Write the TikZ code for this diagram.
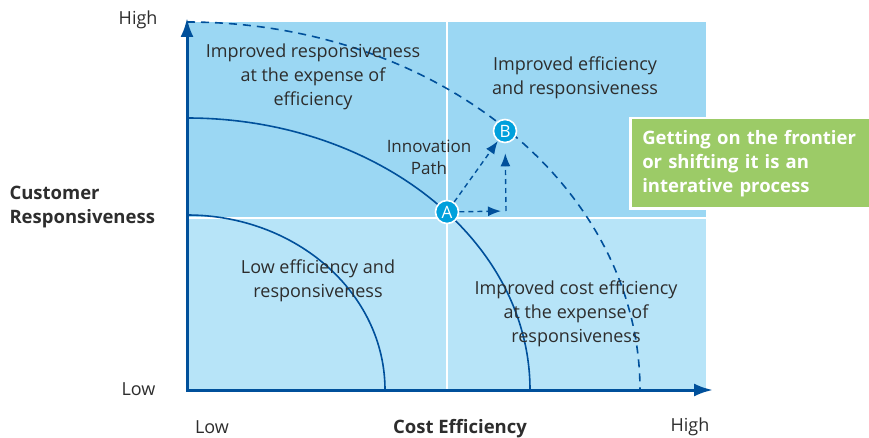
\documentclass[tikz,border=0pt]{standalone}
\usepackage{fontspec}
\setmainfont{Open Sans}
\usetikzlibrary{arrows.meta}
\definecolor{axisblue}{RGB}{0,80,155}
\definecolor{hiblue}{RGB}{155,215,243}
\definecolor{loblue}{RGB}{183,228,248}
\definecolor{dotblue}{RGB}{0,160,220}
\definecolor{boxgreen}{RGB}{156,203,103}
\definecolor{txtgray}{RGB}{45,45,45}
\tikzset{axis/.style={axisblue, line width=3pt, -{Latex[length=19pt,width=13pt]}}}
\tikzset{frontier/.style={axisblue, line width=1.6pt}}
\tikzset{pathline/.style={axisblue, line width=1.4pt, dash pattern=on 5pt off 4pt, -{Latex[length=13pt,width=10pt]}}}
\tikzset{point/.style={circle, fill=dotblue, draw=white, line width=1.6pt, minimum size=23pt, inner sep=0pt, text=white, font=\fontsize{17}{17}\selectfont}}
\tikzset{lbl/.style={text=txtgray, align=center, font=\fontsize{18}{24}\selectfont}}
\tikzset{bold/.style={font=\fontsize{18.5}{24}\selectfont\bfseries}}

\begin{document}
\begin{tikzpicture}[x=1pt,y=1pt]
    \useasboundingbox (0,0) rectangle (869,437);
    %Quadrants
    \fill[hiblue] (187,219) rectangle (706,415);
    \fill[loblue] (187,47) rectangle (706,219);
    \draw[white, line width=2.5pt] (447,47) -- (447,415);
    \draw[white, line width=2.5pt] (187,219) -- (706,219);
    %Frontiers
    \draw[frontier] (187,222) arc[start angle=90, end angle=0, x radius=198, y radius=175];
    \draw[frontier] (187,319) arc[start angle=90, end angle=0, x radius=343, y radius=272];
    \draw[frontier, dash pattern=on 8pt off 6pt] (187,415) arc[start angle=90, end angle=0, x radius=453, y radius=368];
    %Axis
    \draw[axis] (187,47) -- (187,419);
    \draw[axis] (186,47) -- (713,47);
    \node[lbl, anchor=east] (yhigh) at (161,417) {High};
    \node[lbl, anchor=east] (ylow) at (159,48) {Low};
    \node[lbl] (xlow) at (212,10) {Low};
    \node[lbl, bold] (xtitle) at (460,8) {Cost Efficiency};
    \node[lbl] (xhigh) at (690,10) {High};
    \node[lbl, bold, anchor=west, align=left] (ytitle) at (6,230) {Customer\\Responsiveness};
    %Quadrant labels
    \node[lbl] (tl) at (313,360) {Improved responsiveness\\at the expense of\\efficiency};
    \node[lbl] (tr) at (575,359) {Improved efficiency\\and responsiveness};
    \node[lbl] (bl) at (318,156) {Low efficiency and\\responsiveness};
    \node[lbl] (br) at (576,123) {Improved cost efficiency\\at the expense of\\responsiveness};
    %Innovation path
    \node[lbl, font=\fontsize{17}{22}\selectfont] (innov) at (429,280) {Innovation\\Path};
    \node[point] (A) at (447,225) {A};
    \node[point] (B) at (505,306) {B};
    \coordinate (corner) at (506,226);
    \draw[pathline] (A) -- (B);
    \draw[pathline, shorten >=5pt] (A) -- (corner);
    \draw[pathline, shorten >=10pt] (corner) -- (B);
    %Note
    \node[draw=white, line width=2.5pt, fill=boxgreen, text=white, anchor=north west, align=left,
          minimum width=245pt, minimum height=90pt, text width=232pt, inner xsep=12pt,
          bold] (note) at (629,320)
          {Getting on the frontier\\or shifting it is an\\interative process};
\end{tikzpicture}
\end{document}
